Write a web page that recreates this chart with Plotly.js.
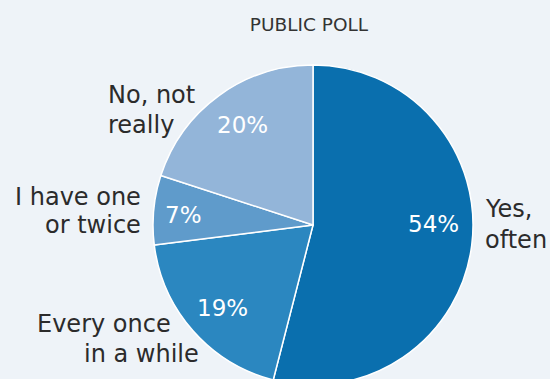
<!DOCTYPE html>
<html>
<head>
<meta charset="utf-8">
<script src="https://cdn.plot.ly/plotly-3.0.1.min.js"></script>
<style>
  html, body { margin: 0; padding: 0; background: #eef3f8; overflow: hidden; width: 550px; height: 379px; }
  #chart { width: 550px; height: 400px; }
</style>
</head>
<body>
<div id="chart"></div>
<script>
// ---- data ----
const categories = ["Yes,<br>often", "Every once<br>in a while", "I have one<br>or twice", "No, not<br>really"];
const shares = [54, 19, 7, 20];
const chartTitle = "PUBLIC POLL";

// ---- styling / placement (not data) ----
const sliceColors = ["#0a6fae", "#2b87c0", "#5f9bcb", "#93b5d9"];
const FONT = "DejaVu Sans, sans-serif";
const W = 550, H = 400;
// label line placement in pixels: [x, baseline, xanchor] per line of each category
const labelLinePos = [
  [[483, 217, "left"], [483, 248, "left"]],
  [[104, 332, "center"], [141, 362, "center"]],
  [[143, 205, "right"], [143, 233, "right"]],
  [[106, 103, "left"], [106, 133, "left"]]
];
// percent text placement in pixels: [center x, baseline]
const pctPos = [[433, 232], [222.5, 316], [183.5, 223], [242.5, 133]];

const LABEL_SIZE = 24, PCT_SIZE = 23, TITLE_SIZE = 18.5;
const px2x = x => x / W;
const px2y = (y, size) => 1 - (y - 0.346 * size) / H;

const total = shares.reduce((a, b) => a + b, 0);
const annotations = [];
categories.forEach((cat, i) => {
  cat.split("<br>").forEach((line, j) => {
    const p = labelLinePos[i][j];
    annotations.push({
      text: line, xref: "paper", yref: "paper",
      x: px2x(p[0]), y: px2y(p[1], LABEL_SIZE),
      xanchor: p[2], yanchor: "middle", showarrow: false,
      font: { family: FONT, size: LABEL_SIZE, color: "#2b2b2b" }
    });
  });
  const q = pctPos[i];
  annotations.push({
    text: Math.round(shares[i] / total * 100) + "%", xref: "paper", yref: "paper",
    x: px2x(q[0]), y: px2y(q[1], PCT_SIZE),
    xanchor: "center", yanchor: "middle", showarrow: false,
    font: { family: FONT, size: PCT_SIZE, color: "#ffffff" }
  });
});

const traces = [{
  type: "pie", labels: categories, values: shares, sort: false,
  direction: "clockwise", rotation: 0,
  domain: { x: [0.2782, 0.86], y: [0.0375, 0.8375] },
  marker: { colors: sliceColors, line: { color: "#ffffff", width: 1.5 } },
  textinfo: "none", hoverinfo: "skip", showlegend: false
}];

const layout = {
  width: W, height: H,
  paper_bgcolor: "#eef3f8", plot_bgcolor: "#eef3f8",
  margin: { l: 0, r: 0, t: 0, b: 0 },
  title: { text: chartTitle, x: 309 / W, xanchor: "center",
           y: px2y(31, TITLE_SIZE), yanchor: "middle",
           font: { family: FONT, size: TITLE_SIZE, color: "#333333" } },
  annotations: annotations,
  showlegend: false
};

Plotly.newPlot("chart", traces, layout, { displayModeBar: false, staticPlot: true });
</script>
</body>
</html>
